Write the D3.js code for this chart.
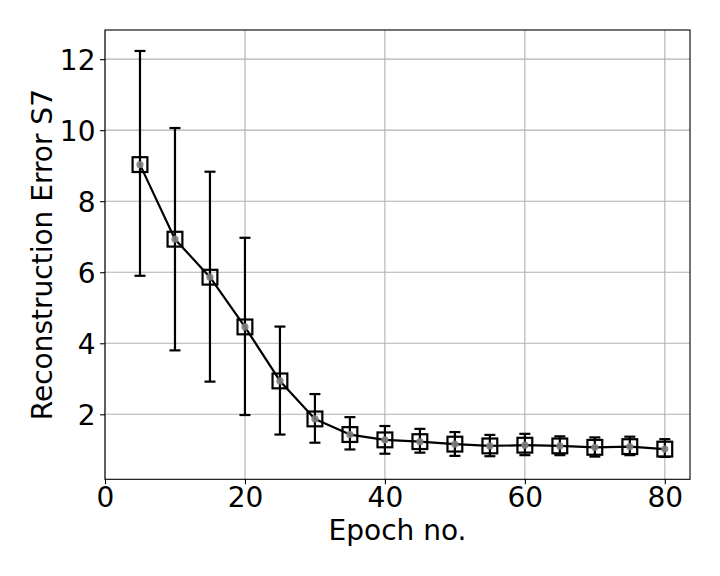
<!DOCTYPE html>
<html>
<head>
<meta charset="utf-8">
<script src="https://cdn.jsdelivr.net/npm/d3@7"></script>
<style>
html,body{margin:0;padding:0;background:#fff;}
svg{display:block;}
text{font-family:"DejaVu Sans",sans-serif;fill:#000;}
</style>
</head>
<body>
<svg id="chart" width="720" height="576"></svg>
<script>
const epochs = [5,10,15,20,25,30,35,40,45,50,55,60,65,70,75,80];
const meanError = [9.03,6.93,5.86,4.46,2.94,1.87,1.43,1.28,1.23,1.16,1.11,1.13,1.11,1.07,1.09,1.02];
const upperError = [12.23,10.06,8.83,6.97,4.47,2.57,1.92,1.67,1.59,1.50,1.42,1.45,1.38,1.35,1.37,1.30];
const lowerError = [5.90,3.80,2.92,1.98,1.43,1.20,1.01,0.89,0.92,0.83,0.82,0.85,0.85,0.81,0.85,0.80];
const xTicks = [0,20,40,60,80];
const yTicks = [2,4,6,8,10,12];
const xLabel = "Epoch no.";
const yLabel = "Reconstruction Error S7";

const L = 105, R = 690, T = 30, B = 479.3;
const fs = 28;
const svg = d3.select("#chart");
const x = d3.scaleLinear().domain([0, 83.6]).range([L, R]);
const y = d3.scaleLinear().domain([0.17, 12.82]).range([B, T]);

// grid
const g = svg.append("g");
g.selectAll("line.gx").data(xTicks).join("line")
  .attr("x1", d => x(d)).attr("x2", d => x(d)).attr("y1", T).attr("y2", B)
  .attr("stroke", "#b0b0b0").attr("stroke-width", 1.1);
g.selectAll("line.gy").data(yTicks).join("line")
  .attr("y1", d => y(d)).attr("y2", d => y(d)).attr("x1", L).attr("x2", R)
  .attr("stroke", "#b0b0b0").attr("stroke-width", 1.1);

// axes
const xAxis = d3.axisBottom(x).tickValues(xTicks).tickSize(4.9).tickPadding(5);
const yAxis = d3.axisLeft(y).tickValues(yTicks).tickSize(4.9).tickPadding(5);
const gx = svg.append("g").attr("transform", `translate(0,${B})`).call(xAxis);
const gy = svg.append("g").attr("transform", `translate(${L},0)`).call(yAxis);
[gx, gy].forEach(a => {
  a.select(".domain").remove();
  a.selectAll(".tick line").attr("stroke", "#000").attr("stroke-width", 1.1);
  a.selectAll(".tick text").style("font-family", "DejaVu Sans").style("font-size", fs + "px").attr("fill", "#000");
});
gx.selectAll(".tick text").attr("dy", null).attr("y", 28);
gy.selectAll(".tick text").attr("dy", null).attr("y", 10.5).attr("x", -9.5);

// frame
svg.append("rect").attr("x", L).attr("y", T).attr("width", R - L).attr("height", B - T)
  .attr("fill", "none").attr("stroke", "#000").attr("stroke-width", 1.1);

const data = epochs.map((e, i) => ({e, m: meanError[i], lo: lowerError[i], hi: upperError[i]}));

// error bars
const eb = svg.append("g").attr("stroke", "#000").attr("stroke-width", 2.2);
eb.selectAll("line.v").data(data).join("line")
  .attr("x1", d => x(d.e)).attr("x2", d => x(d.e)).attr("y1", d => y(d.lo)).attr("y2", d => y(d.hi));
eb.selectAll("line.ct").data(data).join("line")
  .attr("x1", d => x(d.e) - 5.5).attr("x2", d => x(d.e) + 5.5).attr("y1", d => y(d.hi)).attr("y2", d => y(d.hi));
eb.selectAll("line.cb").data(data).join("line")
  .attr("x1", d => x(d.e) - 5.5).attr("x2", d => x(d.e) + 5.5).attr("y1", d => y(d.lo)).attr("y2", d => y(d.lo));

// line
const line = d3.line().x(d => x(d.e)).y(d => y(d.m));
svg.append("path").datum(data).attr("d", line).attr("fill", "none")
  .attr("stroke", "#000").attr("stroke-width", 2.2).attr("stroke-linejoin", "round");

// square markers
svg.append("g").selectAll("rect").data(data).join("rect")
  .attr("x", d => x(d.e) - 7.4).attr("y", d => y(d.m) - 7.4)
  .attr("width", 14.8).attr("height", 14.8)
  .attr("fill", "none").attr("stroke", "#000").attr("stroke-width", 2.2);

// grey dots
svg.append("g").selectAll("circle").data(data).join("circle")
  .attr("cx", d => x(d.e)).attr("cy", d => y(d.m)).attr("r", 3.6)
  .attr("fill", "#808080").attr("opacity", 0.9);

// labels
svg.append("text").attr("x", (L + R) / 2).attr("y", 540).attr("text-anchor", "middle")
  .style("font-size", fs + "px").text(xLabel);
svg.append("text").attr("transform", `translate(52,${(T + B) / 2}) rotate(-90)`)
  .attr("text-anchor", "middle").style("font-size", fs + "px").text(yLabel);
</script>
</body>
</html>
